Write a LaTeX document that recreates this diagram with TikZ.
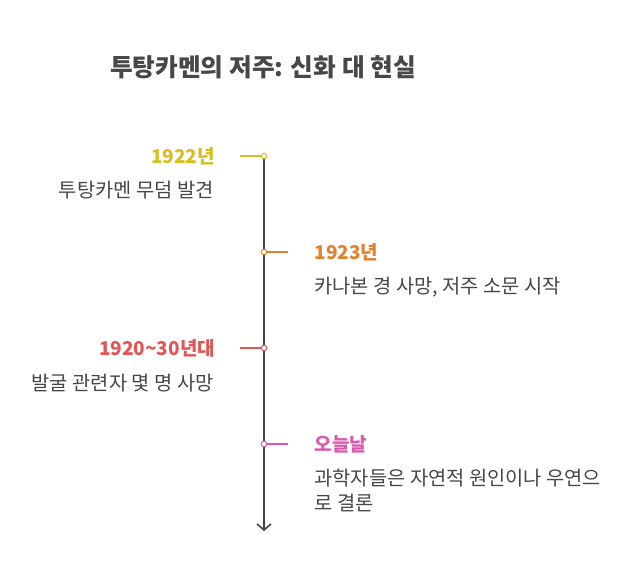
\documentclass[tikz,border=0pt]{standalone}
\usepackage{fontspec}
\setmainfont{Noto Sans CJK KR}
\usetikzlibrary{arrows.meta}

\definecolor{axisgray}{HTML}{444444}
\definecolor{textgray}{HTML}{474747}
\definecolor{c1922}{HTML}{D6BE1E}
\definecolor{c1923}{HTML}{E0822E}
\definecolor{c1930}{HTML}{E05757}
\definecolor{ctoday}{HTML}{DA59AC}

\tikzset{
    dot/.style={circle, draw=#1, fill=white, line width=1pt, inner sep=0pt, minimum size=5.5pt},
    tick/.style={draw=#1, line width=1.3pt},
}

\begin{document}
\begin{tikzpicture}[x=1pt, y=-1pt]
    \def\datefont{\fontsize{19}{22}\selectfont\bfseries}
    \def\descfont{\fontsize{19.8}{25}\selectfont}

    \useasboundingbox (0, 0) rectangle (636, 581);

    \node [font=\fontsize{24.7}{28}\selectfont\bfseries, text=textgray] (title) at (263, 67) {투탕카멘의 저주: 신화 대 현실};

    \coordinate (top) at (264, 156);
    \coordinate (bottom) at (264, 531);
    \draw [axisgray, line width=1.6pt, -{Straight Barb[length=6pt, width=14pt, line width=1.6pt]}] (top) -- (bottom);

    % events
    \node [dot=c1922] (e1) at (264, 156) {};
    \node [dot=c1923] (e2) at (264, 252) {};
    \node [dot=c1930] (e3) at (264, 348) {};
    \node [dot=ctoday] (e4) at (264, 444) {};

    \coordinate (t1) at (240, 156);
    \coordinate (t2) at (288, 252);
    \coordinate (t3) at (240, 348);
    \coordinate (t4) at (288, 444);

    \draw [tick=c1922] (e1) -- (t1);
    \draw [tick=c1923] (e2) -- (t2);
    \draw [tick=c1930] (e3) -- (t3);
    \draw [tick=ctoday] (e4) -- (t4);

    % labels
    \node [anchor=east, text=c1922, font=\datefont] (y1) at (218.5, 156) {1922년};
    \node [anchor=east, text=textgray, font=\descfont] (d1) at (217, 190) {투탕카멘 무덤 발견};

    \node [anchor=west, text=c1923, font=\datefont] (y2) at (311, 252) {1923년};
    \node [anchor=west, text=textgray, font=\descfont] (d2) at (311, 287) {카나본 경 사망, 저주 소문 시작};

    \node [anchor=east, text=c1930, font=\datefont] (y3) at (218.5, 348) {1920\textasciitilde30년대};
    \node [anchor=east, text=textgray, font=\descfont] (d3) at (217, 383) {발굴 관련자 몇 명 사망};

    \node [anchor=west, text=ctoday, font=\datefont] (y4) at (311, 444) {오늘날};
    \node [anchor=west, text=textgray, font=\descfont, align=left] (d4) at (311, 490.5) {과학자들은 자연적 원인이나 우연으\\로 결론};
\end{tikzpicture}
\end{document}
